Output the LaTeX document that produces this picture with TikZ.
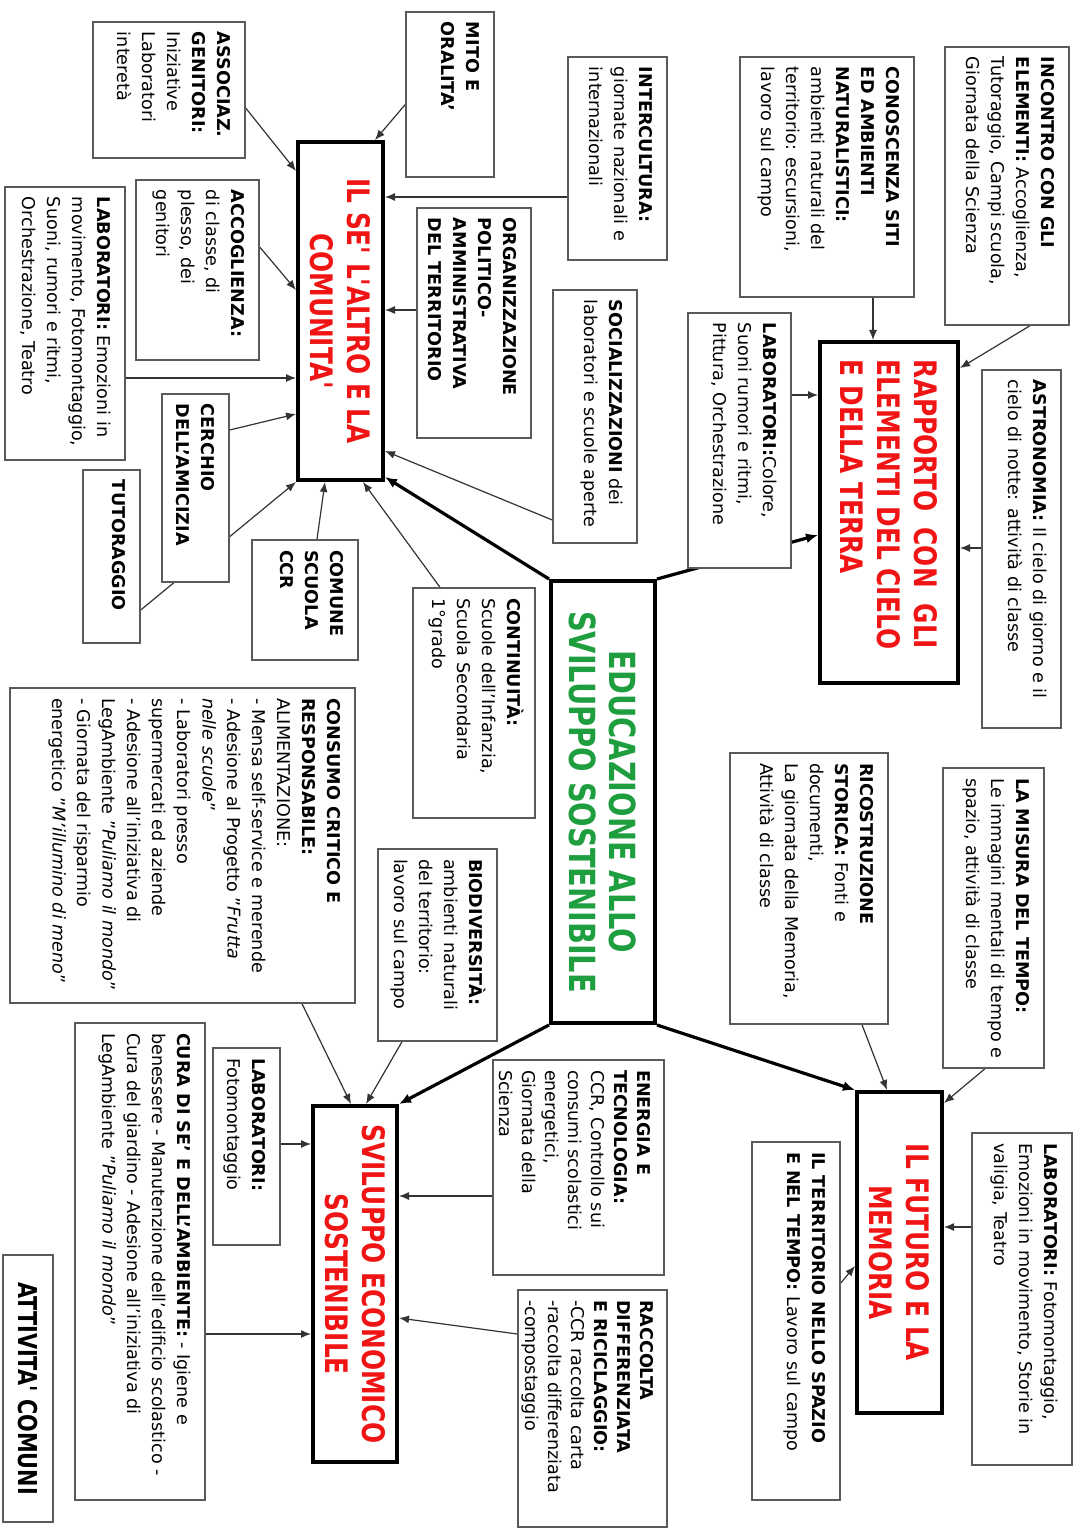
\documentclass[tikz,border=0pt]{standalone}
\usepackage{fontspec}
\setmainfont{DejaVu Sans}
\newfontfamily\titlefont[FakeStretch=0.8]{DejaVu Sans}
\usepackage{graphicx}
\usetikzlibrary{arrows.meta,backgrounds}
\definecolor{titred}{HTML}{F01414}
\definecolor{titgreen}{HTML}{1E9E3E}
\definecolor{boxgray}{HTML}{5A5A5A}
\newlength\pxu
\setlength\pxu{0.5pt}
\newlength\rapw
% box text: width and height of the box in pixels, then the lines
\newcommand\bx[4][12.5]{\rotatebox{-90}{\parbox[c][\dimexpr#2\pxu-10pt\relax][t]{\dimexpr#3\pxu-10pt\relax}{\fontsize{8.8}{#1}\selectfont\begin{tabular}[t]{@{}l@{}}#4\end{tabular}}}}
\newcommand\tbx[3]{\rotatebox{-90}{\parbox[c][\dimexpr#1\pxu-10pt\relax][c]{\dimexpr#2\pxu-10pt\relax}{\centering\titlefont\bfseries\fontsize{15.5}{18.5}\selectfont #3\par}}}

\begin{document}
\begin{tikzpicture}[x=0.5pt,y=-0.5pt,
  blk/.style={draw=boxgray,line width=0.7pt,fill=white,inner sep=5pt},
  main/.style={draw=black,line width=2pt,fill=white,inner sep=5pt},
  arr/.style={draw=black!80,line width=0.6pt,-{Latex[length=5pt,width=4pt]}},
  thk/.style={draw=black,line width=1.6pt,-{Latex[length=6pt,width=5pt]}}]
  \useasboundingbox (0,0) rectangle (1080,1529);

  % main topics
  \node[main,text=titgreen] (edu) at (603,802) {\tbx{104}{442}{\fontsize{18}{20}\selectfont EDUCAZIONE ALLO\\ SVILUPPO SOSTENIBILE}};
  \node[main,text=titred] (sel) at (340.5,311) {\tbx{85}{338}{IL SE' L'ALTRO E LA\\ COMUNITA'}};
  \node[main,text=titred] (rap) at (889,512.5) {\tbx{138}{341}{\raggedright\leftskip=4pt \settowidth\rapw{ELEMENTI DEL CIELO}\makebox[\rapw][s]{RAPPORTO CON GLI}\\ ELEMENTI DEL CIELO\\ E DELLA TERRA}};
  \node[main,text=titred] (eco) at (355,1284) {\tbx{84}{356}{SVILUPPO ECONOMICO\\ SOSTENIBILE}};
  \node[main,text=titred] (fut) at (899.5,1252.5) {\tbx{85}{321}{IL FUTURO E LA\\ MEMORIA}};

  % activities round IL SE'
  \node[blk] (ass) at (169,90) {\bx{152}{136}{\textbf{ASSOCIAZ.}\\ \textbf{GENITORI:}\\ Iniziative\\ Laboratori\\ interetà}};
  \node[blk] (mito) at (450,94.5) {\bx{88}{165}{\textbf{MITO E}\\ \textbf{ORALITA'}}};
  \node[blk] (inter) at (617.5,158.5) {\bx{99}{203}{\textbf{INTERCULTURA:}\\ giornate nazionali e\\ internazionali}};
  \node[blk] (accog) at (197.5,270) {\bx{123}{180}{\textbf{ACCOGLIENZA:}\\ di classe, di\\ plesso, dei\\ genitori}};
  \node[blk] (labA) at (65,323.5) {\bx{120}{273}{\textbf{LABORATORI:} Emozioni in\\ movimento, Fotomontaggio,\\ Suoni, rumori e ritmi,\\ Orchestrazione, Teatro}};
  \node[blk] (org) at (474,323) {\bx{114}{230}{\textbf{ORGANIZZAZIONE}\\ \textbf{POLITICO-}\\ \textbf{AMMINISTRATIVA}\\ \textbf{DEL TERRITORIO}}};
  \node[blk] (soc) at (595,416.5) {\bx{84}{253}{\textbf{SOCIALIZZAZIONI} dei\\ laboratori e scuole aperte}};
  \node[blk] (cerchio) at (195.5,488) {\bx{67}{188}{\textbf{CERCHIO}\\ \textbf{DELL'AMICIZIA}}};
  \node[blk] (tutor) at (111.5,556.5) {\bx{57}{173}{\textbf{TUTORAGGIO}}};
  \node[blk] (comune) at (305,600) {\bx{106}{120}{\textbf{COMUNE}\\ \textbf{SCUOLA}\\ \textbf{CCR}}};
  \node[blk] (cont) at (474,703) {\bx{122}{230}{\textbf{CONTINUITÀ:}\\ Scuole dell'Infanzia,\\ Scuola Secondaria\\ 1°grado}};

  % activities round RAPPORTO
  \node[blk] (cono) at (827,177) {\bx{174}{240}{\textbf{CONOSCENZA SITI}\\ \textbf{ED AMBIENTI}\\ \textbf{NATURALISTICI:}\\ ambienti naturali del\\ territorio: escursioni,\\ lavoro sul campo}};
  \node[blk] (incontro) at (1007,186) {\bx{124}{278}{\textbf{INCONTRO CON GLI}\\ \textbf{ELEMENTI:} Accoglienza,\\ Tutoraggio, Campi scuola,\\ Giornata della Scienza}};
  \node[blk] (labB) at (739.5,440.5) {\bx{103}{255}{\textbf{LABORATORI:}Colore,\\ Suoni rumori e ritmi,\\ Pittura, Orchestrazione}};
  \node[blk] (astro) at (1021.5,549) {\bx{79}{358}{\textbf{ASTRONOMIA:} Il cielo di giorno e il\\ cielo di notte: attività di classe}};

  % activities round SVILUPPO ECONOMICO
  \node[blk] (cons) at (182.5,845.5) {\bx{345}{315}{\textbf{CONSUMO CRITICO E}\\ \textbf{RESPONSABILE:}\\ ALIMENTAZIONE:\\ - Mensa self-service e merende\\ - Adesione al Progetto "\textit{Frutta}\\ \textit{nelle scuole}"\\ - Laboratori presso\\ supermercati ed aziende\\ - Adesione all'iniziativa di\\ LegAmbiente "\textit{Puliamo il mondo}"\\ - Giornata del risparmio\\ energetico "\textit{M'illumino di meno}"}};
  \node[blk] (bio) at (437.5,945) {\bx{119}{192}{\textbf{BIODIVERSITÀ:}\\ ambienti naturali\\ del territorio:\\ lavoro sul campo}};
  \node[blk] (labC) at (246.5,1146.5) {\bx{67}{197}{\textbf{LABORATORI:}\\ Fotomontaggio}};
  \node[blk] (cura) at (140,1261.5) {\bx{130}{477}{\textbf{CURA DI SE' E DELL'AMBIENTE:} - Igiene e\\ benessere - Manutenzione dell'edificio scolastico -\\ Cura del giardino - Adesione all'iniziativa di\\ LegAmbiente "\textit{Puliamo il mondo}"}};
  \node[blk] (ener) at (578.5,1167.5) {\bx[11.5]{171}{215}{\textbf{ENERGIA E}\\ \textbf{TECNOLOGIA:}\\ CCR, Controllo sui\\ consumi scolastici\\ energetici,\\ Giornata della\\ Scienza}};
  \node[blk] (racc) at (592.5,1408.5) {\bx[11.5]{149}{237}{\textbf{RACCOLTA}\\ \textbf{DIFFERENZIATA}\\ \textbf{E RICICLAGGIO:}\\ -CCR raccolta carta\\ -raccolta differenziata\\ -compostaggio}};

  % activities round IL FUTURO
  \node[blk] (ric) at (809,888.5) {\bx{158}{271}{\textbf{RICOSTRUZIONE}\\ \textbf{STORICA:} Fonti e\\ documenti,\\ La giornata della Memoria,\\ Attività di classe}};
  \node[blk] (mis) at (993.5,918) {\bx{101}{300}{\textbf{LA MISURA DEL TEMPO:}\\ Le immagini mentali di tempo e\\ spazio, attività di classe}};
  \node[blk] (terr) at (796,1321) {\bx{88}{358}{\textbf{IL TERRITORIO NELLO SPAZIO}\\ \textbf{E NEL TEMPO:} Lavoro sul campo}};
  \node[blk] (labD) at (1022,1299) {\bx{100}{332}{\textbf{LABORATORI:} Fotomontaggio,\\ Emozioni in movimento, Storie in\\ valigia, Teatro}};

  \node[blk] (att) at (28,1388.5) {\tbx{50}{267}{\fontsize{13}{15}\selectfont ATTIVITA' COMUNI}};

  \begin{scope}[on background layer]
    \fill[white] (0,0) rectangle (1080,1529);
    \draw[thk] (edu.north west) -- ([shift={(0,-5)}]sel.south east);
    \draw[thk] (edu.north east) -- ([shift={(0,-150)}]rap.south west);
    \draw[thk] (edu.south west) -- (eco.north east);
    \draw[thk] (edu.south east) -- (fut.north west);

    \draw[arr] ([shift={(0,18)}]ass.east) -- ([shift={(0,31)}]sel.north west);
    \draw[arr] ([shift={(0,10)}]mito.west) -- ([shift={(-10,0)}]sel.north east);
    \draw[arr] ([shift={(0,38.5)}]inter.west) -- ([shift={(0,-114)}]sel.east);
    \draw[arr] ([shift={(0,-23)}]accog.east) -- ([shift={(0,-21)}]sel.west);
    \draw[arr] ([shift={(0,54.5)}]labA.east) -- ([shift={(0,67)}]sel.west);
    \draw[arr] ([shift={(0,-13)}]org.west) -- ([shift={(0,-1)}]sel.east);
    \draw[arr] ([shift={(0,103.5)}]soc.west) -- ([shift={(0,140)}]sel.east);
    \draw[arr] ([shift={(0,-58)}]cerchio.east) -- ([shift={(0,103)}]sel.west);
    \draw[arr] ([shift={(0,53.5)}]tutor.east) -- (sel.south west);
    \draw[arr] ([shift={(12,0)}]comune.north) -- ([shift={(-15.5,0)}]sel.south);
    \draw[arr] ([shift={(-34,0)}]cont.north) -- ([shift={(22.5,0)}]sel.south);

    \draw[arr] ([shift={(46,0)}]cono.south) -- ([shift={(-16,0)}]rap.north);
    \draw[arr] ([shift={(23,0)}]incontro.south) -- ([shift={(0,28)}]rap.north east);
    \draw[arr] ([shift={(0,-45.5)}]labB.east) -- ([shift={(0,-117.5)}]rap.west);
    \draw[arr] ([shift={(0,-1)}]astro.west) -- ([shift={(0,35.5)}]rap.east);

    \draw[arr] ([shift={(119.5,0)}]cons.south) -- ([shift={(-4,0)}]eco.north);
    \draw[arr] ([shift={(-35.5,0)}]bio.south) -- ([shift={(11,0)}]eco.north);
    \draw[arr] ([shift={(0,-2.5)}]labC.east) -- ([shift={(0,-140)}]eco.west);
    \draw[arr] ([shift={(0,72.5)}]cura.east) -- ([shift={(0,50)}]eco.west);
    \draw[arr] ([shift={(0,28.5)}]ener.west) -- ([shift={(0,-88)}]eco.east);
    \draw[arr] ([shift={(0,-74.5)}]racc.west) -- ([shift={(0,34)}]eco.east);

    \draw[arr] ([shift={(53,0)}]ric.south) -- ([shift={(-12.5,0)}]fut.north);
    \draw[arr] ([shift={(-8.5,0)}]mis.south) -- ([shift={(0,13)}]fut.north east);
    \draw[arr] ([shift={(0,-72)}]labD.west) -- ([shift={(0,-25.5)}]fut.east);
    \draw[arr] ([shift={(0,-38)}]terr.east) -- ([shift={(0,13.5)}]fut.west);
  \end{scope}
\end{tikzpicture}
\end{document}
